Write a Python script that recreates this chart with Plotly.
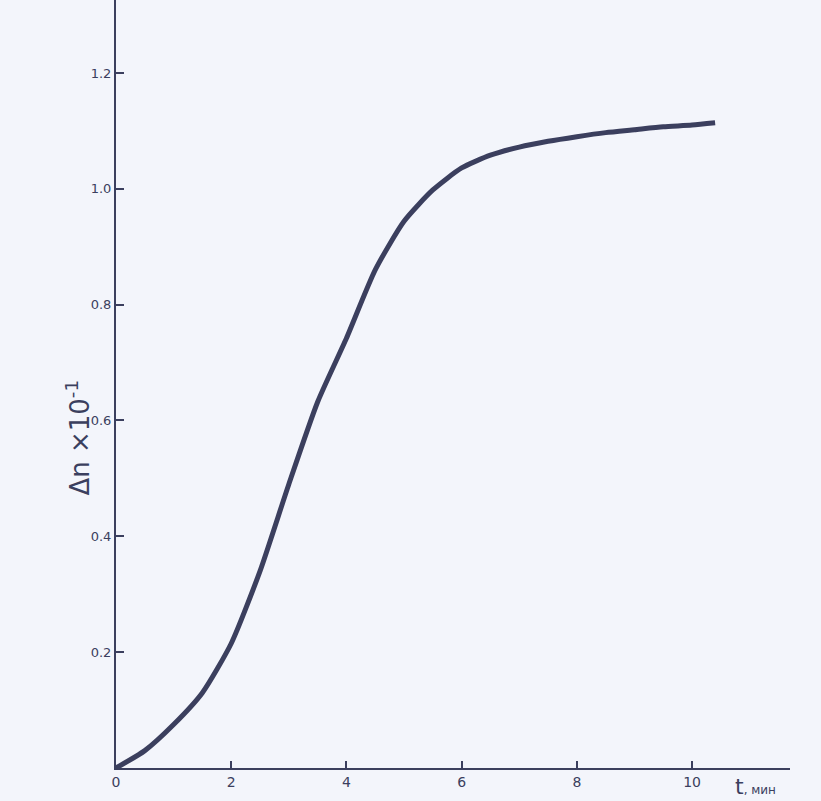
import plotly.graph_objects as go

# Data
t_min = [0, 0.5, 1, 1.5, 2, 2.5, 3, 3.5, 4, 4.5, 5, 5.5, 6, 6.5, 7, 7.5, 8, 8.5, 9, 9.5, 10, 10.4]
delta_n = [0, 0.03, 0.075, 0.13, 0.215, 0.34, 0.49, 0.632, 0.742, 0.86, 0.944, 0.998,
           1.036, 1.058, 1.072, 1.082, 1.09, 1.097, 1.102, 1.107, 1.11, 1.114]

x_ticks = [0, 2, 4, 6, 8, 10]
x_tick_labels = ["0", "2", "4", "6", "8", "10"]
y_ticks = [0.2, 0.4, 0.6, 0.8, 1.0, 1.2]
y_tick_labels = ["0.2", "0.4", "0.6", "0.8", "1.0", "1.2"]

ink = "#3b3f5e"
paper = "#f3f5fb"

fig = go.Figure()
fig.add_trace(go.Scatter(
    x=t_min, y=delta_n, mode="lines",
    line=dict(color=ink, width=5, shape="spline", smoothing=0.6),
    showlegend=False, hoverinfo="skip",
))

fig.update_layout(
    width=821, height=801,
    margin=dict(l=116, r=31, t=0, b=33),
    paper_bgcolor=paper, plot_bgcolor=paper,
    font=dict(family="DejaVu Sans", color=ink, size=13),
    xaxis=dict(
        range=[0, 11.7], showgrid=False, zeroline=False,
        showline=True, linecolor=ink, linewidth=2,
        ticks="inside", ticklen=7, tickwidth=2, tickcolor=ink,
        tickvals=x_ticks, ticktext=x_tick_labels,
        tickfont=dict(size=14, color=ink),
    ),
    yaxis=dict(
        range=[0, 1.326], showgrid=False, zeroline=False,
        showline=True, linecolor=ink, linewidth=2,
        ticks="inside", ticklen=8, tickwidth=2, tickcolor=ink,
        tickvals=y_ticks, ticktext=y_tick_labels,
        tickfont=dict(size=13, color=ink),
    ),
    annotations=[
        dict(text="Δn ×10<sup>-1</sup>", xref="paper", yref="paper",
             x=-0.085, y=0.57 / 1.326, textangle=-90, showarrow=False,
             font=dict(size=26, color=ink, family="DejaVu Sans")),
        dict(text="t<span style='font-size:12px'>, мин</span>", xref="paper", yref="paper",
             x=11.5 / 11.7, y=-0.005, yanchor="top", showarrow=False,
             font=dict(size=22, color=ink, family="DejaVu Sans")),
    ],
)

fig.write_html("out.html", config={"displayModeBar": False},
               post_script="document.body.style.margin='0';")
